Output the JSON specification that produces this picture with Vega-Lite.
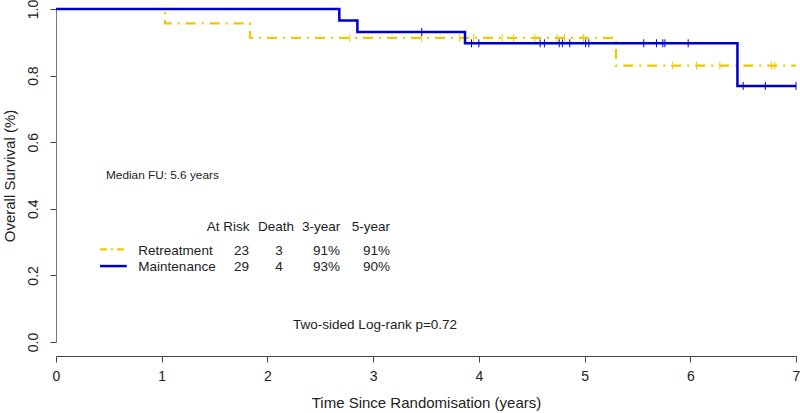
{
  "$schema": "https://vega.github.io/schema/vega-lite/v6.json",
  "width": 740,
  "height": 333,
  "autosize": {"type": "none"},
  "padding": {"left": 56, "top": 9, "right": 4, "bottom": 71},
  "background": "white",
  "config": {"font": "Liberation Sans", "view": {"stroke": null}},
  "datasets": {
    "km": [
      {"group": "Retreatment", "t": 0, "s": 1},
      {"group": "Retreatment", "t": 1.031, "s": 0.957},
      {"group": "Retreatment", "t": 1.835, "s": 0.913},
      {"group": "Retreatment", "t": 5.298, "s": 0.830},
      {"group": "Retreatment", "t": 7.0, "s": 0.830},
      {"group": "Maintenance", "t": 0, "s": 1},
      {"group": "Maintenance", "t": 2.680, "s": 0.9655},
      {"group": "Maintenance", "t": 2.851, "s": 0.931},
      {"group": "Maintenance", "t": 3.869, "s": 0.897},
      {"group": "Maintenance", "t": 6.446, "s": 0.769},
      {"group": "Maintenance", "t": 7.0, "s": 0.769}
    ],
    "cens": [
      {"group": "Retreatment", "t": 2.78, "s": 0.913},
      {"group": "Retreatment", "t": 3.46, "s": 0.913},
      {"group": "Retreatment", "t": 3.82, "s": 0.913},
      {"group": "Retreatment", "t": 3.95, "s": 0.913},
      {"group": "Retreatment", "t": 4.22, "s": 0.913},
      {"group": "Retreatment", "t": 4.33, "s": 0.913},
      {"group": "Retreatment", "t": 4.53, "s": 0.913},
      {"group": "Retreatment", "t": 4.74, "s": 0.913},
      {"group": "Retreatment", "t": 4.81, "s": 0.913},
      {"group": "Retreatment", "t": 4.99, "s": 0.913},
      {"group": "Retreatment", "t": 5.83, "s": 0.830},
      {"group": "Retreatment", "t": 6.06, "s": 0.830},
      {"group": "Retreatment", "t": 6.28, "s": 0.830},
      {"group": "Retreatment", "t": 6.77, "s": 0.830},
      {"group": "Retreatment", "t": 6.80, "s": 0.830},
      {"group": "Maintenance", "t": 3.46, "s": 0.931},
      {"group": "Maintenance", "t": 3.93, "s": 0.897},
      {"group": "Maintenance", "t": 4.00, "s": 0.897},
      {"group": "Maintenance", "t": 4.58, "s": 0.897},
      {"group": "Maintenance", "t": 4.62, "s": 0.897},
      {"group": "Maintenance", "t": 4.76, "s": 0.897},
      {"group": "Maintenance", "t": 4.79, "s": 0.897},
      {"group": "Maintenance", "t": 4.86, "s": 0.897},
      {"group": "Maintenance", "t": 5.01, "s": 0.897},
      {"group": "Maintenance", "t": 5.04, "s": 0.897},
      {"group": "Maintenance", "t": 5.56, "s": 0.897},
      {"group": "Maintenance", "t": 5.68, "s": 0.897},
      {"group": "Maintenance", "t": 5.74, "s": 0.897},
      {"group": "Maintenance", "t": 5.76, "s": 0.897},
      {"group": "Maintenance", "t": 5.98, "s": 0.897},
      {"group": "Maintenance", "t": 6.50, "s": 0.769},
      {"group": "Maintenance", "t": 6.71, "s": 0.769},
      {"group": "Maintenance", "t": 7.00, "s": 0.769}
    ],
    "leftText": [
      {"label": "At Risk", "x": 1.425, "y": 0.346},
      {"label": "Death", "x": 1.911, "y": 0.346},
      {"label": "3-year", "x": 2.327, "y": 0.346},
      {"label": "5-year", "x": 2.797, "y": 0.346},
      {"label": "Retreatment", "x": 0.779, "y": 0.274},
      {"label": "Maintenance", "x": 0.779, "y": 0.224}
    ],
    "centerText": [
      {"label": "23", "x": 1.755, "y": 0.274},
      {"label": "29", "x": 1.755, "y": 0.224},
      {"label": "3", "x": 2.110, "y": 0.274},
      {"label": "4", "x": 2.110, "y": 0.224}
    ],
    "rightText": [
      {"label": "91%", "x": 2.687, "y": 0.274},
      {"label": "93%", "x": 2.687, "y": 0.224},
      {"label": "91%", "x": 3.160, "y": 0.274},
      {"label": "90%", "x": 3.160, "y": 0.224},
      {"label": "Two-sided Log-rank p=0.72", "x": 3.794, "y": 0.051}
    ],
    "noteText": [
      {"label": "Median FU: 5.6 years", "x": 0.473, "y": 0.502}
    ],
    "legendLines": [
      {"group": "Retreatment", "x": 0.416, "x2": 0.669, "y": 0.278},
      {"group": "Maintenance", "x": 0.416, "x2": 0.669, "y": 0.228}
    ]
  },
  "encoding": {
    "x": {
      "field": "t", "type": "quantitative",
      "scale": {"domain": [0, 7], "nice": false, "zero": false},
      "axis": {
        "title": "Time Since Randomisation (years)",
        "values": [0, 1, 2, 3, 4, 5, 6, 7],
        "format": "d",
        "offset": 14,
        "grid": false,
        "tickSize": 6,
        "tickColor": "#444",
        "domainColor": "#444",
        "labelFontSize": 14,
        "labelColor": "#222",
        "labelPadding": 7,
        "labelFlush": false,
        "labelOverlap": false,
        "titleFontSize": 15,
        "titleFontWeight": "normal",
        "titleColor": "#222",
        "titlePadding": 12
      }
    },
    "y": {
      "field": "s", "type": "quantitative",
      "scale": {"domain": [0, 1], "nice": false},
      "axis": {
        "title": "Overall Survival (%)",
        "values": [0, 0.2, 0.4, 0.6, 0.8, 1.0],
        "format": ".1f",
        "grid": false,
        "tickSize": 6,
        "tickColor": "#444",
        "domainColor": "#777",
        "labelAngle": 270,
        "labelAlign": "center",
        "labelBaseline": "alphabetic",
        "labelFontSize": 14,
        "labelColor": "#222",
        "labelPadding": 13,
        "labelFlush": false,
        "labelOverlap": false,
        "titleFontSize": 15,
        "titleFontWeight": "normal",
        "titleColor": "#222",
        "titlePadding": 9
      }
    }
  },
  "layer": [
    {
      "data": {"name": "km"},
      "transform": [{"filter": "datum.group === 'Retreatment'"}],
      "mark": {"type": "line", "interpolate": "step-after", "color": "#EEC900", "strokeWidth": 2.2, "strokeDash": [10, 6, 2, 6]},
      "encoding": {}
    },
    {
      "data": {"name": "km"},
      "transform": [{"filter": "datum.group === 'Maintenance'"}],
      "mark": {"type": "line", "interpolate": "step-after", "color": "#0000CD", "strokeWidth": 2.5},
      "encoding": {}
    },
    {
      "data": {"name": "cens"},
      "mark": {"type": "point", "shape": "M0,-1L0,1", "filled": false, "strokeWidth": 1, "size": 64, "opacity": 1},
      "encoding": {
        "color": {"field": "group", "type": "nominal", "scale": {"domain": ["Retreatment", "Maintenance"], "range": ["#EEC900", "#0000CD"]}, "legend": null}
      }
    },
    {
      "data": {"name": "legendLines"},
      "transform": [{"filter": "datum.group === 'Retreatment'"}],
      "mark": {"type": "rule", "color": "#EEC900", "strokeWidth": 2.2, "strokeDash": [7, 4, 2, 4]},
      "encoding": {
        "x": {"field": "x", "type": "quantitative"},
        "x2": {"field": "x2"},
        "y": {"field": "y", "type": "quantitative"}
      }
    },
    {
      "data": {"name": "legendLines"},
      "transform": [{"filter": "datum.group === 'Maintenance'"}],
      "mark": {"type": "rule", "color": "#0000CD", "strokeWidth": 2.5},
      "encoding": {
        "x": {"field": "x", "type": "quantitative"},
        "x2": {"field": "x2"},
        "y": {"field": "y", "type": "quantitative"}
      }
    },
    {
      "data": {"name": "leftText"},
      "mark": {"type": "text", "align": "left", "baseline": "middle", "fontSize": 13.5, "color": "#222"},
      "encoding": {
        "x": {"field": "x", "type": "quantitative"},
        "y": {"field": "y", "type": "quantitative"},
        "text": {"field": "label"}
      }
    },
    {
      "data": {"name": "centerText"},
      "mark": {"type": "text", "align": "center", "baseline": "middle", "fontSize": 13.5, "color": "#222"},
      "encoding": {
        "x": {"field": "x", "type": "quantitative"},
        "y": {"field": "y", "type": "quantitative"},
        "text": {"field": "label"}
      }
    },
    {
      "data": {"name": "rightText"},
      "mark": {"type": "text", "align": "right", "baseline": "middle", "fontSize": 13.5, "color": "#222"},
      "encoding": {
        "x": {"field": "x", "type": "quantitative"},
        "y": {"field": "y", "type": "quantitative"},
        "text": {"field": "label"}
      }
    },
    {
      "data": {"name": "noteText"},
      "mark": {"type": "text", "align": "left", "baseline": "middle", "fontSize": 11.8, "color": "#222"},
      "encoding": {
        "x": {"field": "x", "type": "quantitative"},
        "y": {"field": "y", "type": "quantitative"},
        "text": {"field": "label"}
      }
    }
  ]
}
